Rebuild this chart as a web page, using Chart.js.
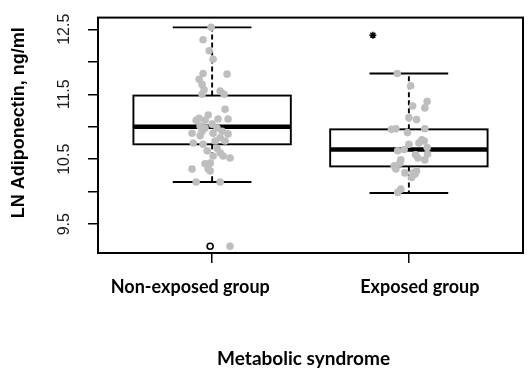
<!DOCTYPE html>
<html>
<head>
<meta charset="utf-8">
<script src="https://cdn.jsdelivr.net/npm/chart.js@4"></script>
<style>
  body { margin: 0; background: #fff; }
  canvas { display: block; }
</style>
</head>
<body>
<canvas id="boxChart" width="529" height="372"></canvas>
<script>
const groups = ['Non-exposed group', 'Exposed group'];
const whiskerLow = [10.15, 9.98];
const q1 = [10.73, 10.39];
const medians = [11.0, 10.65];
const q3 = [11.48, 10.96];
const whiskerHigh = [12.53, 11.82];

const nonExposedX = [0.995,0.954,0.985,1.005,0.954,1.076,0.934,0.949,0.959,0.949,1.041,1.061,1.066,0.980,0.934,0.919,0.964,1.030,1.081,0.939,0.964,1.0,1.025,0.898,0.949,0.939,1.005,1.051,1.081,1.041,1.015,1.066,0.904,0.954,1.025,0.975,1.041,1.056,1.005,1.091,0.964,0.990,0.980,0.898,0.990,0.919,1.041,1.091];
const nonExposedY = [12.53,12.34,12.17,12.04,11.82,11.81,11.73,11.65,11.57,11.50,11.55,11.50,11.27,11.18,11.13,11.10,11.10,11.12,11.12,11.01,10.98,11.04,10.98,10.90,10.93,10.86,10.90,10.93,10.89,10.83,10.78,10.78,10.75,10.73,10.67,10.63,10.60,10.55,10.55,10.52,10.43,10.44,10.35,10.35,10.32,10.15,10.15,9.16];
const exposedX = [1.941,2.009,2.093,2.081,2.019,2.0,2.039,1.912,1.934,1.993,2.081,2.0,2.051,2.078,2.093,1.943,1.976,2.034,2.095,2.081,1.959,1.925,1.934,1.980,2.022,2.014,2.039,1.959,1.943,2.066,2.046,1.954,2.030];
const exposedY = [11.82,11.63,11.39,11.29,11.32,11.14,11.11,10.96,10.97,10.91,10.97,10.73,10.75,10.78,10.68,10.63,10.65,10.57,10.58,10.49,10.49,10.40,10.35,10.29,10.29,10.22,10.32,10.04,9.99,10.80,10.52,10.44,10.27];

const outlierX = [0.99];
const outlierY = [9.16];
const starX = [1.817];
const starY = [12.41];

const yTicks = [9.5, 10, 10.5, 11, 11.5, 12, 12.5];
const yTickLabels = ['9.5', '', '10.5', '', '11.5', '', '12.5'];
const xTicks = [1, 2];
// the labels in the figure sit a little off their ticks; spaces nudge them
const xTickText = [groups[0] + '          ', '     ' + groups[1]];

const toPoints = (xs, ys) => xs.map((x, i) => ({ x: x, y: ys[i] }));

const boxPlugin = {
  id: 'boxes',
  beforeDatasetsDraw(chart) {
    const c = chart.ctx;
    const xs = chart.scales.x, ys = chart.scales.y;
    c.save();
    c.strokeStyle = '#000';
    groups.forEach((g, i) => {
      const pos = xTicks[i];
      const l = xs.getPixelForValue(pos - 0.4), r = xs.getPixelForValue(pos + 0.4);
      const cl = xs.getPixelForValue(pos - 0.2), cr = xs.getPixelForValue(pos + 0.2);
      const cx = xs.getPixelForValue(pos);
      const yq1 = ys.getPixelForValue(q1[i]), yq3 = ys.getPixelForValue(q3[i]);
      const ymed = ys.getPixelForValue(medians[i]);
      const ylo = ys.getPixelForValue(whiskerLow[i]), yhi = ys.getPixelForValue(whiskerHigh[i]);
      // whiskers
      c.lineWidth = 1.9;
      c.setLineDash([5, 3]);
      c.beginPath();
      c.moveTo(cx, yq3); c.lineTo(cx, yhi);
      c.moveTo(cx, yq1); c.lineTo(cx, ylo);
      c.stroke();
      c.setLineDash([]);
      // caps
      c.beginPath();
      c.moveTo(cl, yhi); c.lineTo(cr, yhi);
      c.moveTo(cl, ylo); c.lineTo(cr, ylo);
      c.stroke();
      // box
      c.strokeRect(l, yq3, r - l, yq1 - yq3);
      // median
      c.lineWidth = 4.5;
      c.beginPath();
      c.moveTo(l, ymed); c.lineTo(r, ymed);
      c.stroke();
    });
    c.restore();
  },
  afterDraw(chart) {
    const a = chart.chartArea, c = chart.ctx;
    c.save();
    c.strokeStyle = '#000';
    c.lineWidth = 2;
    c.strokeRect(a.left, a.top, a.right - a.left, a.bottom - a.top);
    c.restore();
  }
};

const ctx = document.getElementById('boxChart').getContext('2d');
const boxChart = new Chart(ctx, {
  type: 'scatter',
  data: {
    datasets: [
      {
        data: toPoints(nonExposedX, nonExposedY),
        backgroundColor: '#bebebe',
        borderWidth: 0,
        pointRadius: 3.8
      },
      {
        data: toPoints(exposedX, exposedY),
        backgroundColor: '#bebebe',
        borderWidth: 0,
        pointRadius: 3.8
      },
      {
        data: toPoints(outlierX, outlierY),
        backgroundColor: '#fff',
        borderColor: '#000',
        borderWidth: 1.6,
        pointRadius: 3
      },
      {
        data: toPoints(starX, starY),
        pointStyle: 'star',
        backgroundColor: '#000',
        borderColor: '#000',
        borderWidth: 1.5,
        pointRadius: 3.5
      }
    ]
  },
  options: {
    responsive: false,
    animation: false,
    layout: { padding: { top: 16, right: 6, left: 0, bottom: 0 } },
    plugins: {
      legend: { display: false },
      tooltip: { enabled: false }
    },
    scales: {
      x: {
        type: 'linear',
        min: 0.42,
        max: 2.58,
        afterFit: s => { s.height = 119; },
        afterBuildTicks: s => { s.ticks = xTicks.map(v => ({ value: v })); },
        grid: { drawOnChartArea: false, color: '#000', lineWidth: 1.5, tickLength: 10 },
        border: { display: true, color: '#000', width: 2 },
        ticks: {
          autoSkip: false,
          minRotation: 0,
          maxRotation: 0,
          padding: 13,
          color: '#000',
          font: { family: 'Lato', weight: 'bold', size: 18 },
          callback: (v, i) => xTickText[i]
        },
        title: {
          display: true,
          text: 'Metabolic syndrome   ',
          color: '#000',
          font: { family: 'Lato', weight: 'bold', size: 19 },
          padding: { top: 0, bottom: 2 }
        }
      },
      y: {
        min: 9.057,
        max: 12.68,
        afterFit: s => { s.width = 98; },
        afterBuildTicks: s => { s.ticks = yTicks.map(v => ({ value: v })); },
        grid: { drawOnChartArea: false, color: '#000', lineWidth: 1.5, tickLength: 10 },
        border: { display: true, color: '#000', width: 2 },
        ticks: {
          autoSkip: false,
          minRotation: 90,
          maxRotation: 90,
          crossAlign: 'center',
          padding: 8,
          color: '#1a1a1a',
          font: { family: 'Liberation Sans', size: 16 },
          callback: (v, i) => yTickLabels[i]
        },
        title: {
          display: true,
          text: '     LN Adiponectin, ng/ml',
          color: '#000',
          font: { family: 'Liberation Sans', weight: 'bold', size: 18 },
          padding: { top: 8, bottom: 0 }
        }
      }
    }
  },
  plugins: [boxPlugin]
});
</script>
</body>
</html>
